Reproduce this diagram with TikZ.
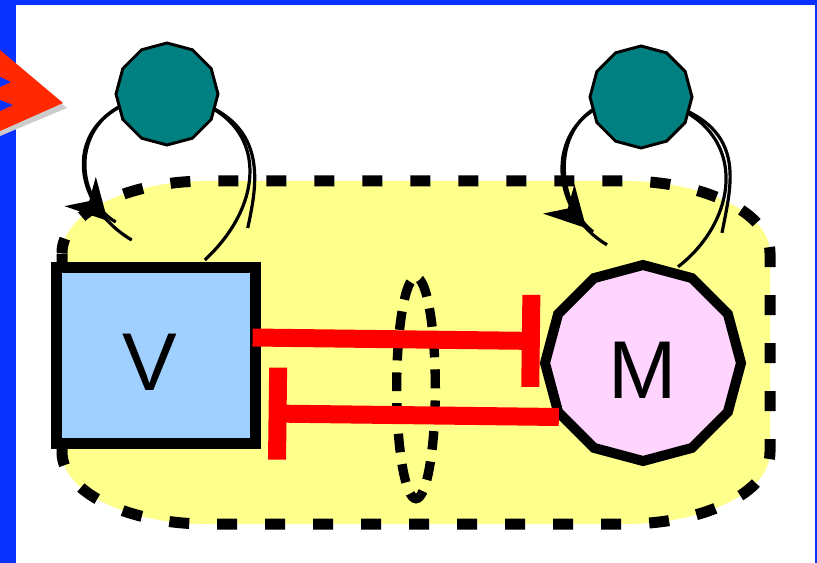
\documentclass[tikz,border=0pt]{standalone}
\usepackage{fontspec}
\setmainfont{Liberation Sans}
\usetikzlibrary{shapes.geometric,arrows.meta,decorations.markings,calc}

\definecolor{framebl}{RGB}{10,50,255}
\definecolor{cellyel}{RGB}{255,255,140}
\definecolor{nodeteal}{RGB}{0,128,128}
\definecolor{vblue}{RGB}{160,208,255}
\definecolor{mpink}{RGB}{255,213,255}
\definecolor{pointred}{RGB}{255,40,0}

\pgfdeclarelayer{front}
\pgfsetlayers{main,front}

\tikzset{
  bigtext/.style={font=\fontsize{61.5}{70}\selectfont, text height=53pt, text depth=0pt, inner sep=0pt},
  ligand/.style={regular polygon, regular polygon sides=12, shape border rotate=15, minimum size=76.5pt, inner sep=0pt, fill=nodeteal, draw=black, line width=2.2pt},
  loopline/.style={draw=black, line width=2.4pt},
  looparrow/.style={postaction={decorate}, decoration={markings, mark=at position #1 with {\arrow{Stealth[length=30pt,width=32pt]}}}},
  inhibit/.style={draw=red, line width=13.5pt, -{Bar[width=69pt]}}
}

\begin{document}
\begin{tikzpicture}[x=0.75pt,y=0.75pt,yscale=-1,xscale=1]
%set diagram: 817 x 563
\useasboundingbox (0,0) rectangle (817,563);
\fill[white] (0,0) rectangle (817,563);

%Frame
\fill[framebl] (0,0) rectangle (16,563);
\fill[framebl] (0,0) rectangle (817,5);
\fill[framebl] (815,0) rectangle (817,563);

%Pointer (cut by the frame)
\fill[black!20] (0,56) -- (67,108) -- (0,136) -- cycle;
\fill[pointred] (0,50) -- (63,103) -- (0,131) -- cycle;
\fill[framebl] (0,77) -- (11,82) -- (0,87) -- cycle;
\fill[framebl] (0,100) -- (13,105) -- (0,111) -- cycle;

%Shape: Cell
\draw[fill=cellyel, line width=8.25pt, dash pattern=on 15pt off 21pt, dash phase=4pt]
  (62,253) arc[start angle=180, end angle=270, x radius=145, y radius=72]
  -- (625,181) arc[start angle=270, end angle=360, x radius=145, y radius=72]
  -- (770,452) arc[start angle=0, end angle=90, x radius=145, y radius=72]
  -- (207,524) arc[start angle=90, end angle=180, x radius=145, y radius=72] -- cycle;

%Shape: Ellipse
\node[ellipse, draw=black, line width=7pt, dash pattern=on 14pt off 9pt, minimum width=29pt, minimum height=166pt, inner sep=0pt] (gap) at (416,388) {};

% Nodes
\node[rectangle, draw=black, fill=vblue, line width=8.25pt, minimum width=149pt, minimum height=132pt, bigtext] (V) at (155.75,355.5) {\kern-9pt V};
\node[regular polygon, regular polygon sides=12, shape border rotate=15, draw=black, fill=mpink, line width=7.5pt, minimum size=147pt, bigtext] (M) at (643,363) {M};
\begin{pgfonlayer}{front}
\node[ligand] (ligV) at (167,94) {};
\node[ligand] (ligM) at (641,97) {};
\end{pgfonlayer}

%Self loops (sketchy double stroke)
\draw[loopline, looparrow=0.93] ($(V.north)+(49,-2)$) .. controls (272,198) and (268,108) .. (ligV.center) .. controls (60,104) and (64,200) .. ($(V.north)+(-24,-22)$);
\draw[loopline] ($(V.north)+(92,-34)$) .. controls (258,180) and (272,112) .. (ligV.center) .. controls (66,100) and (70,196) .. ($(V.north)+(-40,-40)$);
\draw[loopline, looparrow=0.94] ($(M.north)+(35,7)$) .. controls (745,215) and (750,115) .. (ligM.center) .. controls (545,100) and (540,205) .. ($(M.north)+(-36,-15)$);
\draw[loopline] ($(M.north)+(79,-27)$) .. controls (732,180) and (752,118) .. (ligM.center) .. controls (550,96) and (548,196) .. ($(M.north)+(-50,-28)$);

%Inhibition
\draw[inhibit] ($(V.east)+(-8,-18)$) -- ($(M.west)+(0,-22)$);
\draw[inhibit] ($(M.west)+(19,54)$) -- ($(V.east)+(8,58)$);

\end{tikzpicture}
\end{document}
